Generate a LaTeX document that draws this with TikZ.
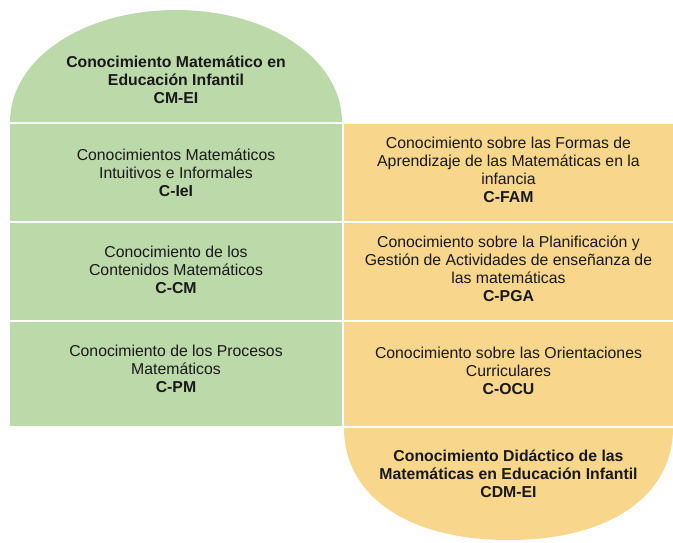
\documentclass[tikz,border=0pt]{standalone}
\usepackage{fontspec}
\setmainfont{Liberation Sans}
\definecolor{cmgreen}{RGB}{188,217,170}
\definecolor{cmorange}{RGB}{248,214,140}
\definecolor{txtc}{RGB}{25,25,25}
\begin{document}
\begin{tikzpicture}[x=1pt,y=-1pt,
  lbl/.style={align=center, text=txtc, font=\fontsize{15.8}{18}\selectfont, inner sep=0pt},
  blbl/.style={lbl, font=\fontsize{15.8}{18}\selectfont\bfseries},
  gfill/.style={fill=cmgreen},
  ofill/.style={fill=cmorange}]
\useasboundingbox (0,0) rectangle (673,542);
\fill[white] (0,0) rectangle (673,542);
% green column
\fill[gfill] (10,122) .. controls (10,59) and (83,10) .. (176,10)
  .. controls (269,10) and (342,59) .. (342,122) -- cycle;
\fill[gfill] (10,124) rectangle (342,221);
\fill[gfill] (10,223) rectangle (342,320);
\fill[gfill] (10,322) rectangle (342,426);
% orange column
\fill[ofill] (344,124) rectangle (673,221);
\fill[ofill] (344,223) rectangle (673,320);
\fill[ofill] (344,322) rectangle (673,426);
\fill[ofill] (344,428) .. controls (344,496) and (408,540) .. (508.5,540)
  .. controls (609,540) and (673,496) .. (673,428) -- cycle;
% texts
\node[blbl] (cmei) at (176,80) {Conocimiento Matemático en\\Educación Infantil\\CM-EI};
\node[lbl] (ciei) at (176,173) {Conocimientos Matemáticos\\Intuitivos e Informales\\\textbf{C-IeI}};
\node[lbl] (ccm) at (176,270) {Conocimiento de los\\Contenidos Matemáticos\\\textbf{C-CM}};
\node[lbl] (cpm) at (176,369) {Conocimiento de los Procesos\\Matemáticos\\\textbf{C-PM}};
\node[lbl] (cfam) at (508.5,170) {Conocimiento sobre las Formas de\\Aprendizaje de las Matemáticas en la\\infancia\\\textbf{C-FAM}};
\node[lbl] (cpga) at (508.5,269) {Conocimiento sobre la Planificación y\\Gestión de Actividades de enseñanza de\\las matemáticas\\\textbf{C-PGA}};
\node[lbl] (cocu) at (508.5,371) {Conocimiento sobre las Orientaciones\\Curriculares\\\textbf{C-OCU}};
\node[blbl] (cdmei) at (508.5,474) {Conocimiento Didáctico de las\\Matemáticas en Educación Infantil\\CDM-EI};
\end{tikzpicture}
\end{document}
